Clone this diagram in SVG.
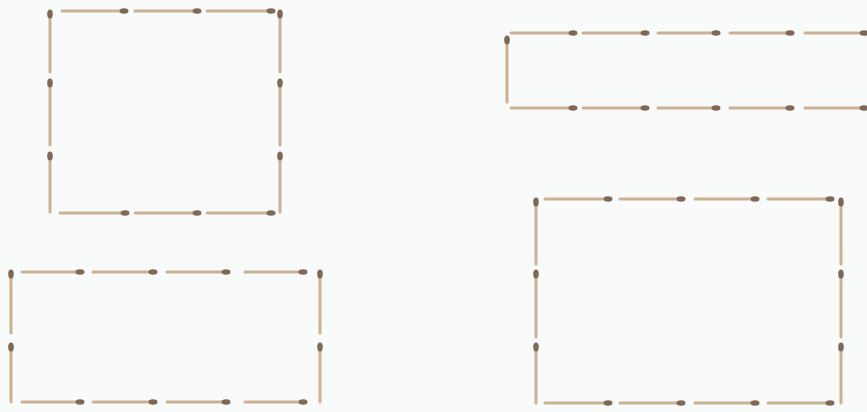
<svg xmlns="http://www.w3.org/2000/svg" width="867" height="412" viewBox="0 0 867 412">
<style>
.s{stroke:#cbb196;stroke-width:3;stroke-linecap:round}
.h{fill:#7f6858}
</style>
<rect width="867" height="412" fill="#f8fbfa"/>
<g id="square1">
<g id="sq1-top"><line class="s" x1="62" y1="11" x2="125" y2="11"/><ellipse class="h" cx="124" cy="11" rx="4.5" ry="2.8"/>
<line class="s" x1="135" y1="11" x2="198" y2="11"/><ellipse class="h" cx="197" cy="11" rx="4.5" ry="2.8"/>
<line class="s" x1="207" y1="11" x2="272" y2="11"/><ellipse class="h" cx="271" cy="11" rx="4.5" ry="2.8"/></g>
<g id="sq1-bottom"><line class="s" x1="60" y1="213" x2="127" y2="213"/><ellipse class="h" cx="125" cy="213" rx="4.5" ry="2.8"/>
<line class="s" x1="135" y1="213" x2="198" y2="213"/><ellipse class="h" cx="197" cy="213" rx="4.5" ry="2.8"/>
<line class="s" x1="207" y1="213" x2="272" y2="213"/><ellipse class="h" cx="271" cy="213" rx="4.5" ry="2.8"/></g>
<g id="sq1-left"><line class="s" x1="50" y1="13" x2="50" y2="72"/><ellipse class="h" cx="50" cy="14" rx="2.8" ry="4.5"/>
<line class="s" x1="50" y1="82" x2="50" y2="145"/><ellipse class="h" cx="50" cy="83" rx="2.8" ry="4.5"/>
<line class="s" x1="50" y1="155" x2="50" y2="212"/><ellipse class="h" cx="50" cy="156" rx="2.8" ry="4.5"/></g>
<g id="sq1-right"><line class="s" x1="280" y1="13" x2="280" y2="72"/><ellipse class="h" cx="280" cy="14" rx="2.8" ry="4.5"/>
<line class="s" x1="280" y1="82" x2="280" y2="145"/><ellipse class="h" cx="280" cy="83" rx="2.8" ry="4.5"/>
<line class="s" x1="280" y1="155" x2="280" y2="212"/><ellipse class="h" cx="280" cy="156" rx="2.8" ry="4.5"/></g>
</g>
<g id="strip2">
<g id="st2-top"><line class="s" x1="511" y1="33" x2="575" y2="33"/><ellipse class="h" cx="573" cy="33" rx="4.5" ry="2.8"/>
<line class="s" x1="583" y1="33" x2="647" y2="33"/><ellipse class="h" cx="645" cy="33" rx="4.5" ry="2.8"/>
<line class="s" x1="658" y1="33" x2="718" y2="33"/><ellipse class="h" cx="716" cy="33" rx="4.5" ry="2.8"/>
<line class="s" x1="730" y1="33" x2="792" y2="33"/><ellipse class="h" cx="790" cy="33" rx="4.5" ry="2.8"/>
<line class="s" x1="805" y1="33" x2="866" y2="33"/><ellipse class="h" cx="864" cy="33" rx="4.5" ry="2.8"/></g>
<g id="st2-bottom"><line class="s" x1="511" y1="108" x2="575" y2="108"/><ellipse class="h" cx="573" cy="108" rx="4.5" ry="2.8"/>
<line class="s" x1="583" y1="108" x2="647" y2="108"/><ellipse class="h" cx="645" cy="108" rx="4.5" ry="2.8"/>
<line class="s" x1="658" y1="108" x2="718" y2="108"/><ellipse class="h" cx="716" cy="108" rx="4.5" ry="2.8"/>
<line class="s" x1="730" y1="108" x2="792" y2="108"/><ellipse class="h" cx="790" cy="108" rx="4.5" ry="2.8"/>
<line class="s" x1="805" y1="108" x2="866" y2="108"/><ellipse class="h" cx="864" cy="108" rx="4.5" ry="2.8"/></g>
<g id="st2-left"><line class="s" x1="507" y1="38" x2="507" y2="102"/><ellipse class="h" cx="507" cy="40" rx="2.8" ry="4.5"/></g>
</g>
<g id="rect3">
<g id="r3-top"><line class="s" x1="22" y1="272" x2="82" y2="272"/><ellipse class="h" cx="80" cy="272" rx="4.5" ry="2.8"/>
<line class="s" x1="93" y1="272" x2="155" y2="272"/><ellipse class="h" cx="153" cy="272" rx="4.5" ry="2.8"/>
<line class="s" x1="167" y1="272" x2="228" y2="272"/><ellipse class="h" cx="226" cy="272" rx="4.5" ry="2.8"/>
<line class="s" x1="245" y1="272" x2="305" y2="272"/><ellipse class="h" cx="303" cy="272" rx="4.5" ry="2.8"/></g>
<g id="r3-bottom"><line class="s" x1="22" y1="402" x2="82" y2="402"/><ellipse class="h" cx="80" cy="402" rx="4.5" ry="2.8"/>
<line class="s" x1="93" y1="402" x2="155" y2="402"/><ellipse class="h" cx="153" cy="402" rx="4.5" ry="2.8"/>
<line class="s" x1="167" y1="402" x2="228" y2="402"/><ellipse class="h" cx="226" cy="402" rx="4.5" ry="2.8"/>
<line class="s" x1="245" y1="402" x2="305" y2="402"/><ellipse class="h" cx="303" cy="402" rx="4.5" ry="2.8"/></g>
<g id="r3-left"><line class="s" x1="11" y1="272" x2="11" y2="333"/><ellipse class="h" cx="11" cy="274" rx="2.8" ry="4.5"/>
<line class="s" x1="11" y1="345" x2="11" y2="402"/><ellipse class="h" cx="11" cy="347" rx="2.8" ry="4.5"/></g>
<g id="r3-right"><line class="s" x1="320" y1="272" x2="320" y2="333"/><ellipse class="h" cx="320" cy="274" rx="2.8" ry="4.5"/>
<line class="s" x1="320" y1="345" x2="320" y2="402"/><ellipse class="h" cx="320" cy="347" rx="2.8" ry="4.5"/></g>
</g>
<g id="rect4">
<g id="r4-top"><line class="s" x1="545" y1="199" x2="610" y2="199"/><ellipse class="h" cx="608" cy="199" rx="4.5" ry="2.8"/>
<line class="s" x1="620" y1="199" x2="683" y2="199"/><ellipse class="h" cx="681" cy="199" rx="4.5" ry="2.8"/>
<line class="s" x1="695" y1="199" x2="757" y2="199"/><ellipse class="h" cx="755" cy="199" rx="4.5" ry="2.8"/>
<line class="s" x1="768" y1="199" x2="832" y2="199"/><ellipse class="h" cx="830" cy="199" rx="4.5" ry="2.8"/></g>
<g id="r4-bottom"><line class="s" x1="545" y1="403" x2="610" y2="403"/><ellipse class="h" cx="608" cy="403" rx="4.5" ry="2.8"/>
<line class="s" x1="620" y1="403" x2="683" y2="403"/><ellipse class="h" cx="681" cy="403" rx="4.5" ry="2.8"/>
<line class="s" x1="695" y1="403" x2="757" y2="403"/><ellipse class="h" cx="755" cy="403" rx="4.5" ry="2.8"/>
<line class="s" x1="768" y1="403" x2="832" y2="403"/><ellipse class="h" cx="830" cy="403" rx="4.5" ry="2.8"/></g>
<g id="r4-left"><line class="s" x1="536" y1="200" x2="536" y2="264"/><ellipse class="h" cx="536" cy="202" rx="2.8" ry="4.5"/>
<line class="s" x1="536" y1="272" x2="536" y2="337"/><ellipse class="h" cx="536" cy="274" rx="2.8" ry="4.5"/>
<line class="s" x1="536" y1="345" x2="536" y2="403"/><ellipse class="h" cx="536" cy="347" rx="2.8" ry="4.5"/></g>
<g id="r4-right"><line class="s" x1="841" y1="200" x2="841" y2="264"/><ellipse class="h" cx="841" cy="202" rx="2.8" ry="4.5"/>
<line class="s" x1="841" y1="272" x2="841" y2="337"/><ellipse class="h" cx="841" cy="274" rx="2.8" ry="4.5"/>
<line class="s" x1="841" y1="345" x2="841" y2="403"/><ellipse class="h" cx="841" cy="347" rx="2.8" ry="4.5"/></g>
</g>
</svg>
